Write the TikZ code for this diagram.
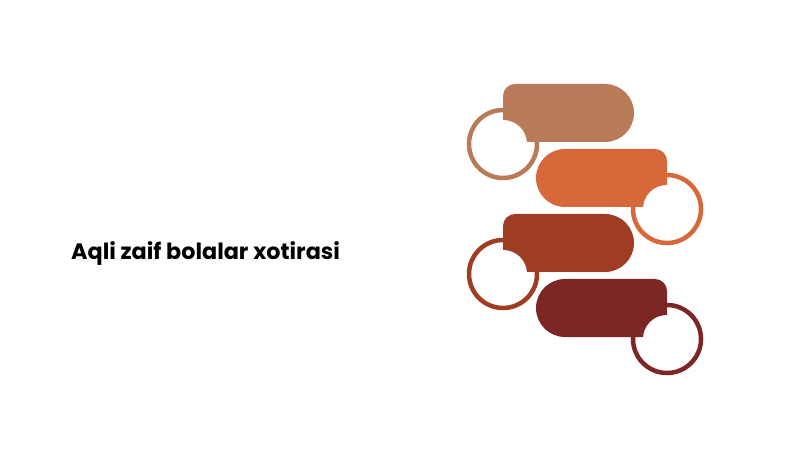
\documentclass[tikz,border=0pt]{standalone}
\usepackage{fontspec}
\newfontfamily\titlefont{Poppins}
\usepackage{tikz}
\definecolor{barA}{HTML}{B97A57}
\definecolor{barB}{HTML}{D6683A}
\definecolor{barC}{HTML}{9F3D23}
\definecolor{barD}{HTML}{7D2626}
\tikzset{ring/.style={draw=#1, line width=4.5pt, fill=white}}
\tikzset{bite/.style={fill=white}}
\tikzset{title/.style={font=\titlefont\bfseries\fontsize{22.3}{26}\selectfont, text=black, inner sep=0pt}}

\begin{document}
\begin{tikzpicture}[x=1pt,y=1pt]
  \useasboundingbox (0,0) rectangle (800,450);
  \node[title, anchor=base west] (heading) at (71,190) {Aqli zaif bolalar xotirasi};
  % bars with the ring on the left
  \foreach \t/\col in {
    366/barA,
    236/barC%
  } {
    \draw[ring=\col] (503,\t-60) circle[radius=34];
    \fill[\col] (503,\t-58) -- (503,\t-12) arc[start angle=180, end angle=90, radius=12]
      -- (605,\t) arc[start angle=90, end angle=-90, radius=29] -- cycle;
    \fill[bite] (503,\t-60) circle[radius=24];
  }
  % bars with the ring on the right
  \foreach \t/\col in {
    301/barB,
    171/barD%
  } {
    \draw[ring=\col] (667,\t-60) circle[radius=34];
    \fill[\col] (565,\t-58) arc[start angle=270, end angle=90, radius=29]
      -- (655,\t) arc[start angle=90, end angle=0, radius=12] -- (667,\t-58) -- cycle;
    \fill[bite] (667,\t-60) circle[radius=24];
  }
\end{tikzpicture}
\end{document}
